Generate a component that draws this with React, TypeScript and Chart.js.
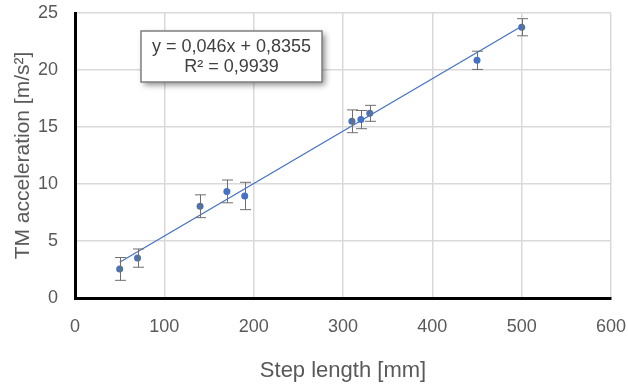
import { useEffect, useRef } from "react";
import { Chart, registerables } from "chart.js";

Chart.register(...registerables);

const stepLength = [50, 70, 140, 170, 190, 310, 320, 330, 450, 500];
const acceleration = [2.55, 3.5, 8.05, 9.35, 8.95, 15.5, 15.65, 16.2, 20.85, 23.75];
const errorMargin = [1.0, 0.8, 1.0, 1.0, 1.2, 1.0, 0.8, 0.7, 0.8, 0.75];
const trendSlope = 0.046;
const trendIntercept = 0.8355;
const trendRange = [50, 500];
const equationLines = ["y = 0,046x + 0,8355", "R\u00b2 = 0,9939"];
const xAxisTitle = "Step length [mm]";
const yAxisTitle = "TM acceleration [m/s\u00b2]";

const FONT = "'Liberation Sans', Arial, sans-serif";

const errorBarPlugin = {
  id: "errorBars",
  afterDatasetsDraw(chart: any) {
    const { ctx, scales } = chart;
    const xs = scales.x;
    const ys = scales.y;
    ctx.save();
    ctx.strokeStyle = "#6f6f6f";
    ctx.lineWidth = 1;
    stepLength.forEach((xv, i) => {
      const px = Math.round(xs.getPixelForValue(xv)) + 0.5;
      const top = ys.getPixelForValue(acceleration[i] + errorMargin[i]);
      const bot = ys.getPixelForValue(acceleration[i] - errorMargin[i]);
      ctx.beginPath();
      ctx.moveTo(px, top);
      ctx.lineTo(px, bot);
      ctx.moveTo(px - 5.5, top);
      ctx.lineTo(px + 5.5, top);
      ctx.moveTo(px - 5.5, bot);
      ctx.lineTo(px + 5.5, bot);
      ctx.stroke();
    });
    ctx.restore();
  },
};

const equationPlugin = {
  id: "equationBox",
  afterDraw(chart: any) {
    const { ctx, chartArea } = chart;
    const left = chartArea.left + 66;
    const top = chartArea.top + 18;
    const w = 181;
    const h = 51;
    ctx.save();
    ctx.shadowColor = "rgba(0,0,0,0.45)";
    ctx.shadowBlur = 6;
    ctx.shadowOffsetX = 3;
    ctx.shadowOffsetY = 3;
    ctx.fillStyle = "#ffffff";
    ctx.fillRect(left, top, w, h);
    ctx.shadowColor = "transparent";
    ctx.strokeStyle = "#7f7f7f";
    ctx.lineWidth = 1.5;
    ctx.strokeRect(left, top, w, h);
    ctx.fillStyle = "#404040";
    ctx.font = `18px ${FONT}`;
    ctx.textAlign = "center";
    ctx.textBaseline = "middle";
    equationLines.forEach((line, i) => {
      ctx.fillText(line, left + w / 2, top + 16 + i * 20);
    });
    ctx.restore();
  },
};

function zeroPadding(scale: any) {
  scale.paddingTop = 0;
  scale.paddingBottom = 0;
  scale.paddingLeft = 0;
  scale.paddingRight = 0;
}

export default function App() {
  const ref = useRef<HTMLCanvasElement>(null);
  useEffect(() => {
    document.body.style.margin = "0";
    const canvas = ref.current!;
    const chart = new Chart(canvas, {
      type: "scatter",
      data: {
        datasets: [
          {
            label: "points",
            data: stepLength.map((x, i) => ({ x, y: acceleration[i] })),
            backgroundColor: "#4472C4",
            borderColor: "#4472C4",
            pointRadius: 3.5,
            pointBorderWidth: 0,
            showLine: false,
            order: 1,
          },
          {
            label: "trend",
            type: "line",
            data: trendRange.map((x) => ({ x, y: trendSlope * x + trendIntercept })),
            borderColor: "#4472C4",
            borderWidth: 1.25,
            pointRadius: 0,
            fill: false,
            order: 2,
          } as any,
        ],
      },
      plugins: [errorBarPlugin, equationPlugin],
      options: {
        animation: false,
        responsive: false,
        devicePixelRatio: 1,
        layout: { padding: { left: 0, right: 17, top: 13, bottom: 0 } },
        plugins: { legend: { display: false }, tooltip: { enabled: false } },
        scales: {
          x: {
            type: "linear",
            min: 0,
            max: 600,
            ticks: {
              stepSize: 100,
              color: "#595959",
              font: { family: FONT, size: 18 },
              padding: 18,
            },
            grid: { color: "#d9d9d9", lineWidth: 1.5, drawTicks: false },
            border: { color: "#000000", width: 3 },
            title: {
              display: true,
              text: xAxisTitle,
              color: "#595959",
              font: { family: FONT, size: 22 },
              padding: { top: 15, bottom: 0 },
            },
            afterFit(scale: any) {
              scale.height = 86;
              zeroPadding(scale);
            },
          },
          y: {
            type: "linear",
            min: 0,
            max: 25,
            ticks: {
              stepSize: 5,
              color: "#595959",
              font: { family: FONT, size: 18 },
              padding: 17,
            },
            grid: { color: "#d9d9d9", lineWidth: 1.5, drawTicks: false },
            border: { color: "#000000", width: 3 },
            title: {
              display: true,
              text: yAxisTitle,
              color: "#595959",
              font: { family: FONT, size: 21 },
              padding: { top: 11, bottom: 0 },
            },
            afterFit(scale: any) {
              scale.width = 75;
              zeroPadding(scale);
            },
          },
        },
      },
    });
    return () => chart.destroy();
  }, []);
  return <canvas ref={ref} width={628} height={384} style={{ display: "block" }} />;
}
